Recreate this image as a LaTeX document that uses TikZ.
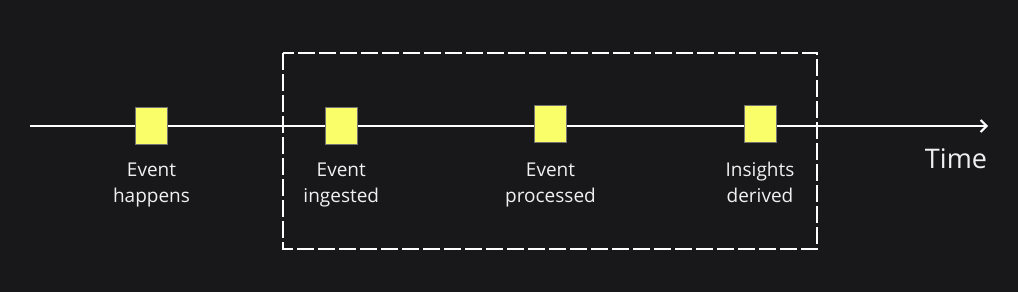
\documentclass[tikz,border=0pt]{standalone}
\usepackage{fontspec}
\setmainfont{Open Sans}
\usepackage{tikz}
\usetikzlibrary{arrows.meta, positioning}
\definecolor{pagebg}{RGB}{24,24,26}
\definecolor{eventyellow}{RGB}{250,255,105}
\definecolor{lineoff}{RGB}{240,240,240}

\begin{document}
\begin{tikzpicture}[x=1pt, y=-1pt,
    eventbox/.style={rectangle, draw=black!55, line width=0.6pt, fill=eventyellow,
                     minimum width=32pt, minimum height=37pt, inner sep=0pt},
    caption/.style={align=center, text=lineoff, inner sep=0pt,
                    font=\fontsize{19}{26}\selectfont},
    timeline/.style={draw=white, line width=2pt, -{Straight Barb[length=6pt, width=12pt, line width=2pt]}},
    window/.style={draw=white, line width=2.4pt, dash pattern=on 17pt off 4pt}
]
\fill[pagebg] (0,0) rectangle (1018,292);
\useasboundingbox (0,0) rectangle (1018,292);

% time axis
\coordinate (axisstart) at (30,126);
\coordinate (axisend) at (988,126);
\draw[timeline] (axisstart) -- (axisend);
\node[text=lineoff, font=\fontsize{27}{30}\selectfont, anchor=base] (timelbl) at (956,168) {Time};

% processing window
\coordinate (winnw) at (283,53);
\coordinate (winse) at (817,249);
\draw[window] (winnw) rectangle (winse);

% events
\node[eventbox] (happens) at (151.5,126) {};
\node[eventbox] (ingested) at (341.3,126) {};
\node[eventbox] (processed) at (550.5,123.7) {};
\node[eventbox] (derived) at (760,123.7) {};

% captions (base = last line)
\node[caption, anchor=base] (happenstxt) at (151.5,202) {Event\\happens};
\node[caption, anchor=base] (ingestedtxt) at (341.3,202) {Event\\ingested};
\node[caption, anchor=base] (processedtxt) at (550.5,202) {Event\\processed};
\node[caption, anchor=base] (derivedtxt) at (760,202) {Insights\\derived};
\end{tikzpicture}
\end{document}
